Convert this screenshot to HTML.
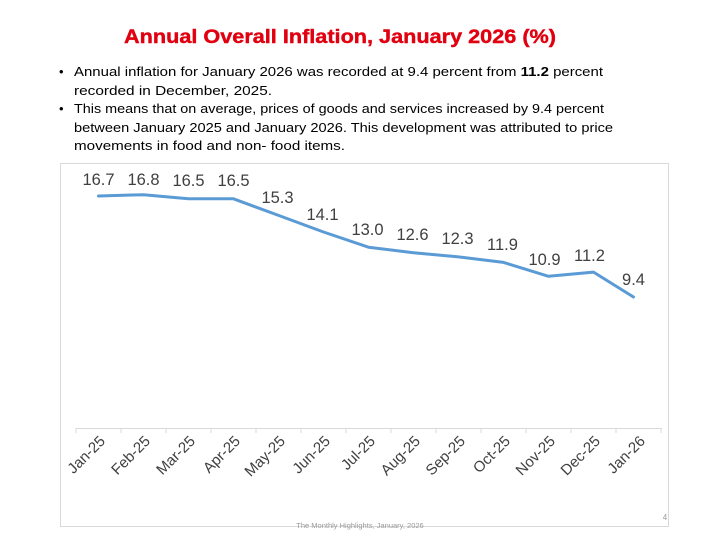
<!DOCTYPE html>
<html><head><meta charset="utf-8"><style>
html,body{margin:0;padding:0;background:#fff;}
svg{display:block;}
</style></head><body>
<svg width="720" height="540" viewBox="0 0 720 540" xmlns="http://www.w3.org/2000/svg" font-family="Liberation Sans, sans-serif">
<rect width="720" height="540" fill="#fff"/>
<text x="340" y="43" text-anchor="middle" font-size="19" font-weight="bold" fill="#e00010" stroke="#e00010" stroke-width="0.4" textLength="432" lengthAdjust="spacingAndGlyphs">Annual Overall Inflation, January 2026 (%)</text>
<g font-size="13" fill="#000">
<text x="59" y="76">•</text>
<text x="74" y="76" textLength="529" lengthAdjust="spacingAndGlyphs">Annual inflation for January 2026 was recorded at 9.4  percent from  <tspan font-weight="bold">11.2</tspan> percent</text>
<text x="74" y="95" textLength="198" lengthAdjust="spacingAndGlyphs">recorded in December, 2025.</text>
<text x="59" y="113">•</text>
<text x="74" y="113" textLength="530" lengthAdjust="spacingAndGlyphs">This means that on average, prices of goods and services increased by 9.4 percent</text>
<text x="74" y="132" textLength="539" lengthAdjust="spacingAndGlyphs">between January 2025 and January 2026. This development was attributed to price</text>
<text x="74" y="150" textLength="271" lengthAdjust="spacingAndGlyphs">movements  in  food and non- food items.</text>
</g>
<rect x="60.5" y="163.5" width="608" height="363" fill="none" stroke="#d9d9d9" stroke-width="1"/>
<line x1="76" y1="428.5" x2="662" y2="428.5" stroke="#d9d9d9" stroke-width="1"/>
<g stroke="#d9d9d9" stroke-width="1">
<line x1="76" y1="428" x2="76" y2="433"/><line x1="121" y1="428" x2="121" y2="433"/><line x1="166" y1="428" x2="166" y2="433"/><line x1="211" y1="428" x2="211" y2="433"/><line x1="256" y1="428" x2="256" y2="433"/><line x1="301" y1="428" x2="301" y2="433"/><line x1="346" y1="428" x2="346" y2="433"/><line x1="391" y1="428" x2="391" y2="433"/><line x1="436" y1="428" x2="436" y2="433"/><line x1="481" y1="428" x2="481" y2="433"/><line x1="526" y1="428" x2="526" y2="433"/><line x1="571" y1="428" x2="571" y2="433"/><line x1="616" y1="428" x2="616" y2="433"/><line x1="661" y1="428" x2="661" y2="433"/>
</g>
<polyline fill="none" stroke="#5b9bd5" stroke-width="3" stroke-linejoin="round" stroke-linecap="round"
points="98.5,196 143.5,194.7 188.5,198.8 233.5,198.8 278.5,215.4 323.5,232 368.5,247.2 413.5,252.7 458.5,256.9 503.5,262.4 548.5,276.3 593.5,272.1 633.5,297"/>
<g font-size="16.5" fill="#404040" text-anchor="middle">
<text x="98.5" y="185">16.7</text><text x="143.5" y="185">16.8</text><text x="188.5" y="186">16.5</text><text x="233.5" y="186">16.5</text><text x="277.5" y="203">15.3</text><text x="322.5" y="220">14.1</text><text x="367.5" y="235">13.0</text><text x="412.5" y="240">12.6</text><text x="457.5" y="244">12.3</text><text x="502.5" y="250">11.9</text><text x="544.5" y="265">10.9</text><text x="589.5" y="261">11.2</text><text x="633.5" y="285">9.4</text>
</g>
<g font-size="15" fill="#404040" text-anchor="end">
<text transform="translate(106,442) rotate(-45)">Jan-25</text>
<text transform="translate(151,442) rotate(-45)">Feb-25</text>
<text transform="translate(196,442) rotate(-45)">Mar-25</text>
<text transform="translate(241,442) rotate(-45)">Apr-25</text>
<text transform="translate(286,442) rotate(-45)">May-25</text>
<text transform="translate(331,442) rotate(-45)">Jun-25</text>
<text transform="translate(376,442) rotate(-45)">Jul-25</text>
<text transform="translate(421,442) rotate(-45)">Aug-25</text>
<text transform="translate(466,442) rotate(-45)">Sep-25</text>
<text transform="translate(511,442) rotate(-45)">Oct-25</text>
<text transform="translate(556,442) rotate(-45)">Nov-25</text>
<text transform="translate(601,442) rotate(-45)">Dec-25</text>
<text transform="translate(646,442) rotate(-45)">Jan-26</text>
</g>
<text x="665" y="520" font-size="8" fill="#999" text-anchor="middle">4</text>
<text x="360" y="528" font-size="7.5" fill="#999" text-anchor="middle">The Monthly Highlights, January, 2026</text>
</svg>
</body></html>
